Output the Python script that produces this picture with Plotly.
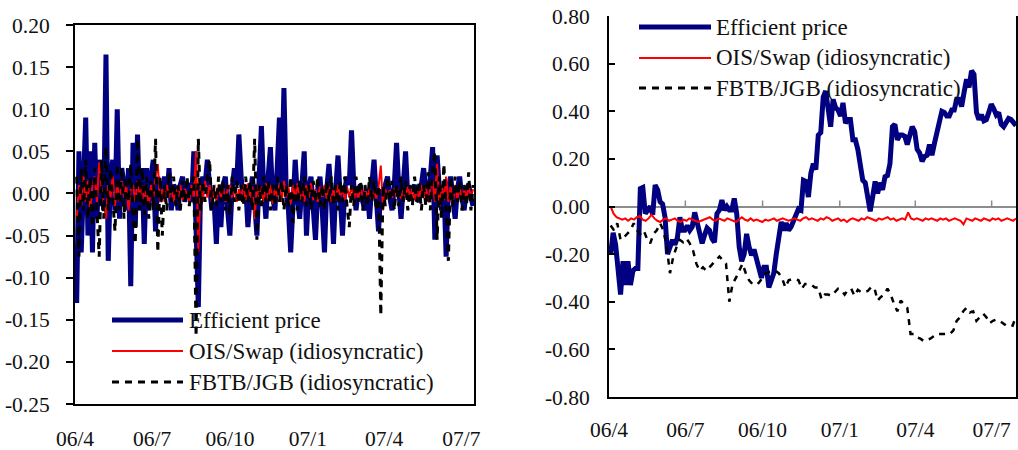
import pandas as pd
import plotly.graph_objects as go

# ---------------- data ----------------
# Left panel: daily changes
EFF_DAILY = [
    -0.13, 0.05, -0.07, 0.02, 0.09, -0.05, 0.05, -0.07, 0.06, -0.03, 0.04, 0.01, -0.02, 0.165,
    -0.08, 0.02, 0.04, -0.02, 0.10, -0.03, 0.03, 0.01, -0.02, 0.03, -0.11,
    0.06, -0.04, 0.07, -0.02, 0.03, -0.06, 0.03, -0.02, 0.02, 0.04, -0.045, 0.02, -0.01, 0.01,
    0.02, -0.005, 0.03, -0.02, 0.01, 0.005, -0.02, 0.01, 0.02, -0.01, 0.01, 0.01, -0.01, 0.05,
    -0.03, -0.135,
    0.005, 0.02, 0.01, 0.04, 0.01, -0.02, -0.01, -0.06, 0.005, -0.04, 0.01, 0.02, -0.02, -0.05,
    0.005, 0.03, 0.01, 0.07, 0.02, -0.01, 0.01, -0.04, -0.005, 0.02, -0.01, -0.05, 0.02, 0.08,
    0.005, -0.03, 0.02, 0.055, -0.005, -0.02, 0.03, 0.09, 0.01, 0.125,
    0.005, -0.02, -0.07, 0.005, 0.04, -0.005, -0.03, 0.01, 0.05, -0.05, 0.005, 0.02, -0.01,
    -0.055, 0.005, 0.02, -0.02, -0.07, 0.005, 0.035, -0.005, -0.06, 0.005, 0.045, -0.005,
    -0.05, 0.005, 0.02, 0.01, 0.075,
    0.01, -0.02, 0.005, 0.01, -0.01, -0.02, 0.005, -0.03, 0.01, 0.04, -0.005, -0.045, 0.005,
    -0.01, 0.01, 0.02, -0.005, -0.02, 0.01, 0.06, 0.005, -0.03, 0.01, 0.05, -0.005, 0.005,
    0.005, 0.01, -0.005, -0.01, 0.01, 0.03, 0.005, -0.01, 0.02, 0.055, -0.055, 0.045, 0.005,
    -0.02, 0.01, -0.075,
    0.005, 0.02, -0.005, -0.03, 0.005, 0.02, -0.005, -0.02, 0.005, 0.01, -0.005, -0.015,
]
OIS_DAILY = [
    -0.03, 0.01, -0.015, 0.02, -0.01, 0.015, -0.02, 0.01, 0.02, -0.01,
    0.037, 0.005, -0.01, -0.03, 0.01, -0.005, 0.02, -0.015, 0.01, -0.01,
    0.015, -0.005, 0.01, -0.02, 0.005, 0.01, -0.01, 0.015, -0.005, 0.01,
    -0.01, 0.005, -0.015, 0.01, -0.005, 0.02, 0.035, -0.01, 0.005, -0.01,
    0.01, -0.005, 0.008, -0.01, 0.005, -0.005, 0.01, -0.008, 0.005, 0.0,
    -0.01, 0.01, -0.005, 0.05, -0.07, 0.01, -0.01, 0.015, -0.005, 0.01,
    -0.01, 0.005, -0.008, 0.01, -0.005, 0.008, -0.01, 0.005, 0.01, -0.005,
    0.008, -0.01, 0.005, -0.005, 0.01, -0.008, 0.012, -0.005, 0.008, -0.03,
    0.01, -0.005, 0.008, -0.01, 0.012, -0.006, 0.01, -0.012, 0.006, -0.004,
    0.01, -0.01, 0.015, -0.005, 0.008, -0.012, 0.01, -0.006, 0.012, -0.008,
    0.006, -0.01, 0.01, -0.005, 0.012, -0.008, 0.005, -0.01, 0.008, -0.004,
    0.01, -0.006, 0.008, -0.01, 0.005, -0.008, 0.01, -0.004, 0.006, -0.008,
    0.008, -0.005, 0.01, -0.008, 0.005, -0.006, 0.008, -0.004, 0.006, -0.005,
    0.005, -0.008, 0.004, -0.006, 0.008, 0.033, -0.02, 0.005, -0.006, 0.004,
    -0.005, 0.006, -0.004, 0.005, -0.006, 0.004, -0.005, 0.008, -0.004, 0.006,
    -0.008, 0.005, -0.006, 0.01, -0.005, 0.008, -0.01, 0.006, 0.015, -0.01,
    0.035, -0.015, 0.01, -0.008, 0.02, -0.01, 0.008, -0.012, 0.01, -0.006,
    0.008, -0.01, 0.006, -0.005, 0.008, -0.004, 0.005,
]
FBTB_DAILY = [
    0.02, -0.075, 0.03, -0.02, 0.04, -0.03, 0.02, -0.04, 0.03, -0.02,
    -0.075, 0.04, -0.03, 0.055, -0.02, 0.03, -0.01, -0.045, 0.035, -0.02,
    0.03, -0.03, 0.02, -0.01, 0.035, -0.03, -0.06, 0.065, -0.02, 0.03,
    -0.025, 0.02, -0.03, 0.015, -0.02, 0.065, -0.07, 0.02, -0.05, 0.01,
    -0.02, 0.025, -0.01, 0.02, -0.015, 0.01, -0.02, 0.015, -0.01, 0.02,
    -0.015, 0.01, 0.02, -0.17, 0.065, -0.02, 0.015, -0.01, 0.02, 0.04,
    -0.02, 0.01, -0.015, 0.02, -0.01, 0.015, -0.02, 0.01, -0.025, 0.02,
    -0.01, 0.015, -0.02, 0.01, -0.015, 0.02, -0.01, 0.015, -0.02, 0.065,
    -0.055, 0.01, -0.015, 0.02, -0.01, 0.015, -0.02, 0.01, -0.015, 0.02,
    -0.01, 0.015, -0.02, 0.01, -0.015, 0.02, -0.035, 0.01, -0.02, 0.015,
    -0.01, 0.02, -0.015, 0.01, -0.02, 0.015, -0.01, 0.02, -0.015, 0.01,
    -0.02, 0.015, -0.01, 0.02, -0.015, 0.01, -0.02, 0.015, -0.01, 0.02,
    -0.015, -0.04, 0.01, -0.015, 0.02, -0.01, 0.015, -0.02, 0.01, -0.015,
    0.02, -0.01, 0.015, -0.02, 0.01, -0.145, 0.01, -0.015, 0.02, -0.01,
    0.015, -0.02, 0.01, -0.015, 0.02, -0.01, 0.015, -0.02, 0.01, -0.015,
    0.02, -0.01, 0.015, -0.02, 0.01, -0.015, 0.025, -0.02, 0.03, 0.05,
    -0.055, 0.02, -0.03, 0.035, -0.02, -0.08, 0.02, -0.015, 0.02, -0.01,
    0.015, -0.02, 0.01, -0.015, 0.025, -0.02, 0.01,
]

# Right panel: levels
EFF_LEVEL = [
    -0.20, -0.11, -0.16, -0.30, -0.37, -0.23, -0.33, -0.23, -0.33, -0.27, -0.26, -0.26,
    0.075, 0.08, -0.03, -0.015, 0.0, -0.035, 0.09, 0.07, 0.02, 0.01, -0.045, -0.20, -0.17,
    -0.14, -0.16, -0.13, -0.045, -0.10, -0.10, -0.08, -0.10, -0.085, -0.025, -0.065, -0.115,
    -0.155, -0.12, -0.09, -0.10, -0.135, -0.15, -0.03, -0.015, 0.027, -0.015, 0.0, -0.015,
    -0.015, 0.034, -0.03, -0.17, -0.23, -0.20, -0.115, -0.17, -0.205, -0.18, -0.225, -0.255,
    -0.30, -0.255, -0.255, -0.34, -0.30, -0.28, -0.20, -0.14, -0.065, -0.10, -0.07, -0.10,
    -0.085, -0.06, -0.03, -0.01, -0.015, 0.11, 0.105, 0.04, 0.14, 0.18, 0.155, 0.30, 0.31,
    0.46, 0.485, 0.39, 0.335, 0.45, 0.415, 0.405, 0.38, 0.435, 0.35, 0.365, 0.365, 0.28, 0.28,
    0.24, 0.17, 0.11, 0.10, 0.04, -0.02, 0.04, 0.105, 0.055, 0.10, 0.07, 0.125, 0.13, 0.18,
    0.335, 0.345, 0.28, 0.30, 0.30, 0.295, 0.26, 0.31, 0.335, 0.315, 0.24, 0.225, 0.19, 0.21,
    0.215, 0.26, 0.215, 0.265, 0.31, 0.345, 0.40, 0.395, 0.38, 0.38, 0.405, 0.405, 0.45, 0.45,
    0.42, 0.48, 0.535, 0.50, 0.57, 0.555, 0.395, 0.365, 0.385, 0.36, 0.365, 0.395, 0.43, 0.41,
    0.385, 0.395, 0.345, 0.335, 0.35, 0.37, 0.365, 0.35, 0.34,
]
OIS_LEVEL = [
    0.00, -0.03, -0.045, -0.05, -0.055, -0.05, -0.06, -0.05, -0.055, -0.045,
    -0.04, -0.055, -0.06, -0.05, -0.035, -0.05, -0.06, -0.065, -0.055, -0.05,
    -0.06, -0.055, -0.05, -0.06, -0.065, -0.055, -0.06, -0.05, -0.055, -0.06,
    -0.065, -0.06, -0.055, -0.05, -0.045, -0.055, -0.06, -0.05, -0.055, -0.06,
    -0.05, -0.055, -0.06, -0.065, -0.055, -0.045, -0.055, -0.06, -0.05, -0.06,
    -0.055, -0.06, -0.065, -0.055, -0.06, -0.055, -0.05, -0.06, -0.055, -0.05,
    -0.055, -0.06, -0.055, -0.05, -0.055, -0.06, -0.05, -0.045, -0.055, -0.05,
    -0.055, -0.06, -0.05, -0.055, -0.045, -0.05, -0.06, -0.055, -0.05, -0.06,
    -0.055, -0.065, -0.055, -0.05, -0.055, -0.06, -0.05, -0.055, -0.045, -0.05,
    -0.055, -0.06, -0.05, -0.055, -0.05, -0.045, -0.055, -0.05, -0.06, -0.055,
    -0.05, -0.055, -0.025, -0.05, -0.055, -0.05, -0.055, -0.06, -0.05, -0.055,
    -0.05, -0.055, -0.06, -0.05, -0.055, -0.05, -0.06, -0.055, -0.05, -0.055,
    -0.06, -0.075, -0.05, -0.055, -0.06, -0.05, -0.055, -0.06, -0.05, -0.055,
    -0.06, -0.05, -0.055, -0.05, -0.06, -0.055, -0.05, -0.055, -0.06, -0.05,
]
FBTB_LEVEL = [
    -0.08, -0.10, -0.07, -0.14, -0.13, -0.115, -0.10, -0.07, -0.10, -0.115, -0.10, -0.135,
    -0.155, -0.115, -0.10, -0.07, -0.10, -0.17, -0.28, -0.21, -0.17, -0.14, -0.15, -0.135,
    -0.155, -0.185, -0.24, -0.27, -0.255, -0.27, -0.255, -0.24, -0.225, -0.21, -0.225, -0.24,
    -0.40, -0.325, -0.30, -0.27, -0.24, -0.28, -0.31, -0.325, -0.33, -0.32, -0.30, -0.28,
    -0.275, -0.27, -0.27, -0.28, -0.30, -0.34, -0.31, -0.305, -0.305, -0.31, -0.345, -0.325,
    -0.325, -0.33, -0.34, -0.34, -0.39, -0.37, -0.37, -0.375, -0.36, -0.345, -0.35, -0.37,
    -0.35, -0.345, -0.375, -0.35, -0.36, -0.36, -0.355, -0.34, -0.34, -0.395, -0.38, -0.37,
    -0.345, -0.37, -0.41, -0.44, -0.395, -0.41, -0.425, -0.535, -0.535, -0.55, -0.555, -0.565,
    -0.56, -0.555, -0.545, -0.535, -0.535, -0.535, -0.535, -0.535, -0.52, -0.48, -0.465, -0.44,
    -0.425, -0.445, -0.44, -0.48, -0.465, -0.45, -0.465, -0.49, -0.48, -0.475, -0.48, -0.49,
    -0.50, -0.495, -0.50, -0.46,
]

SERIES_NAMES = ["Efficient price", "OIS/Swap (idiosyncratic)", "FBTB/JGB (idiosyncratic)"]
X_TICKVALS = ["2006-04-01", "2006-07-01", "2006-10-01", "2007-01-01", "2007-04-01", "2007-07-01"]
X_TICKTEXT = ["06/4", "06/7", "06/10", "07/1", "07/4", "07/7"]
Y1_TICKVALS = [-0.25, -0.20, -0.15, -0.10, -0.05, 0.0, 0.05, 0.10, 0.15, 0.20]
Y1_TICKTEXT = ["-0.25", "-0.20", "-0.15", "-0.10", "-0.05", "0.00", "0.05", "0.10", "0.15", "0.20"]
Y2_TICKVALS = [-0.8, -0.6, -0.4, -0.2, 0.0, 0.2, 0.4, 0.6, 0.8]
Y2_TICKTEXT = ["-0.80", "-0.60", "-0.40", "-0.20", "0.00", "0.20", "0.40", "0.60", "0.80"]

LEFT_START, LEFT_END = "2006-04-03", "2007-07-15"
RIGHT_START, RIGHT_END = "2006-04-03", "2007-07-30"

# ---------------- styling ----------------
W, H = 1018, 450
NAVY, RED, BLACK = "#000080", "#FF0000", "#000000"
FONT = dict(family="Liberation Serif", size=21.5, color="#111111")
LEG_FONT = dict(family="Liberation Serif", size=23, color="#111111")


def dates(start, end, n):
    return pd.date_range(start, end, periods=n)


def px(x):
    return x / W


def py(y):
    return 1 - y / H


fig = go.Figure()

styles = [
    dict(color=NAVY, width=5),
    dict(color=RED, width=2),
    dict(color=BLACK, width=3, dash="7px,6px"),
]
styles_r = [
    dict(color=NAVY, width=5),
    dict(color=RED, width=2),
    dict(color=BLACK, width=2.5, dash="6px,6px"),
]

for vals, st in zip([EFF_DAILY, OIS_DAILY, FBTB_DAILY], styles):
    fig.add_trace(go.Scatter(x=dates(LEFT_START, LEFT_END, len(vals)), y=vals, mode="lines",
                             line=st, xaxis="x", yaxis="y", showlegend=False, hoverinfo="skip"))
for vals, st in zip([EFF_LEVEL, OIS_LEVEL, FBTB_LEVEL], styles_r):
    fig.add_trace(go.Scatter(x=dates(RIGHT_START, RIGHT_END, len(vals)), y=vals, mode="lines",
                             line=st, xaxis="x2", yaxis="y2", showlegend=False, hoverinfo="skip"))

axis_common = dict(showgrid=False, linecolor=BLACK, linewidth=2, tickfont=FONT, automargin=False)

fig.update_layout(
    width=W, height=H, autosize=False,
    margin=dict(l=0, r=0, t=0, b=0, autoexpand=False),
    paper_bgcolor="white", plot_bgcolor="white",
    font=FONT, showlegend=False,
    xaxis=dict(domain=[px(75), px(474)], anchor="y", type="date",
               range=["2006-04-01", "2007-07-16"], tickvals=X_TICKVALS, ticktext=X_TICKTEXT,
               ticks="", showline=True, mirror=True, zeroline=False, ticklabelstandoff=14,
               **axis_common),
    yaxis=dict(domain=[py(404), py(25)], anchor="x", range=[-0.25, 0.20],
               tickvals=Y1_TICKVALS, ticktext=Y1_TICKTEXT, ticks="outside", ticklen=7,
               tickwidth=1.5, tickcolor=BLACK, showline=True, mirror=True, zeroline=False,
               ticklabelstandoff=12, **axis_common),
    xaxis2=dict(domain=[px(609), px(1016)], anchor="y2", type="date",
                range=["2006-04-01", "2007-07-30"], tickvals=X_TICKVALS, ticktext=X_TICKTEXT,
                ticks="", showline=True, mirror=False, zeroline=False, ticklabelstandoff=12,
                **axis_common),
    yaxis2=dict(domain=[py(397), py(16)], anchor="x2", range=[-0.8, 0.8],
                tickvals=Y2_TICKVALS, ticktext=Y2_TICKTEXT, ticks="inside", ticklen=6,
                tickwidth=1.5, tickcolor=BLACK, showline=True, mirror=True,
                zeroline=True, zerolinecolor="#8c8c8c", zerolinewidth=1.5,
                ticklabelstandoff=13, **axis_common),
)

shapes = []
# short upward tick marks on the right panel's zero line
for tv in X_TICKVALS[1:]:
    shapes.append(dict(type="line", xref="x2", yref="y2", ysizemode="pixel", yanchor=0,
                       x0=tv, x1=tv, y0=0, y1=6, line=dict(color="#8c8c8c", width=1.5)))
# white patch hiding the top frame under the right legend
shapes.append(dict(type="rect", xref="paper", yref="paper", x0=px(611), x1=px(997),
                   y0=py(19), y1=py(12), fillcolor="white", line=dict(width=0), layer="above"))

# hand-drawn legends
legend_rows = [
    (px(112), px(183), px(187), [py(320), py(351), py(382)]),
    (px(639), px(711), px(714), [py(27), py(58), py(88)]),
]
annotations = []
for (x0, x1, xt, ys) in legend_rows:
    for name, st, yy in zip(SERIES_NAMES, styles, ys):
        shapes.append(dict(type="line", xref="paper", yref="paper", x0=x0, x1=x1, y0=yy, y1=yy,
                           line=st, layer="above"))
        annotations.append(dict(text=name, xref="paper", yref="paper", x=xt, y=yy,
                                xanchor="left", yanchor="middle", showarrow=False, font=LEG_FONT))

fig.update_layout(shapes=shapes, annotations=annotations)

fig.write_html("out.html", config={"displayModeBar": False},
               post_script="document.body.style.margin='0px';")
